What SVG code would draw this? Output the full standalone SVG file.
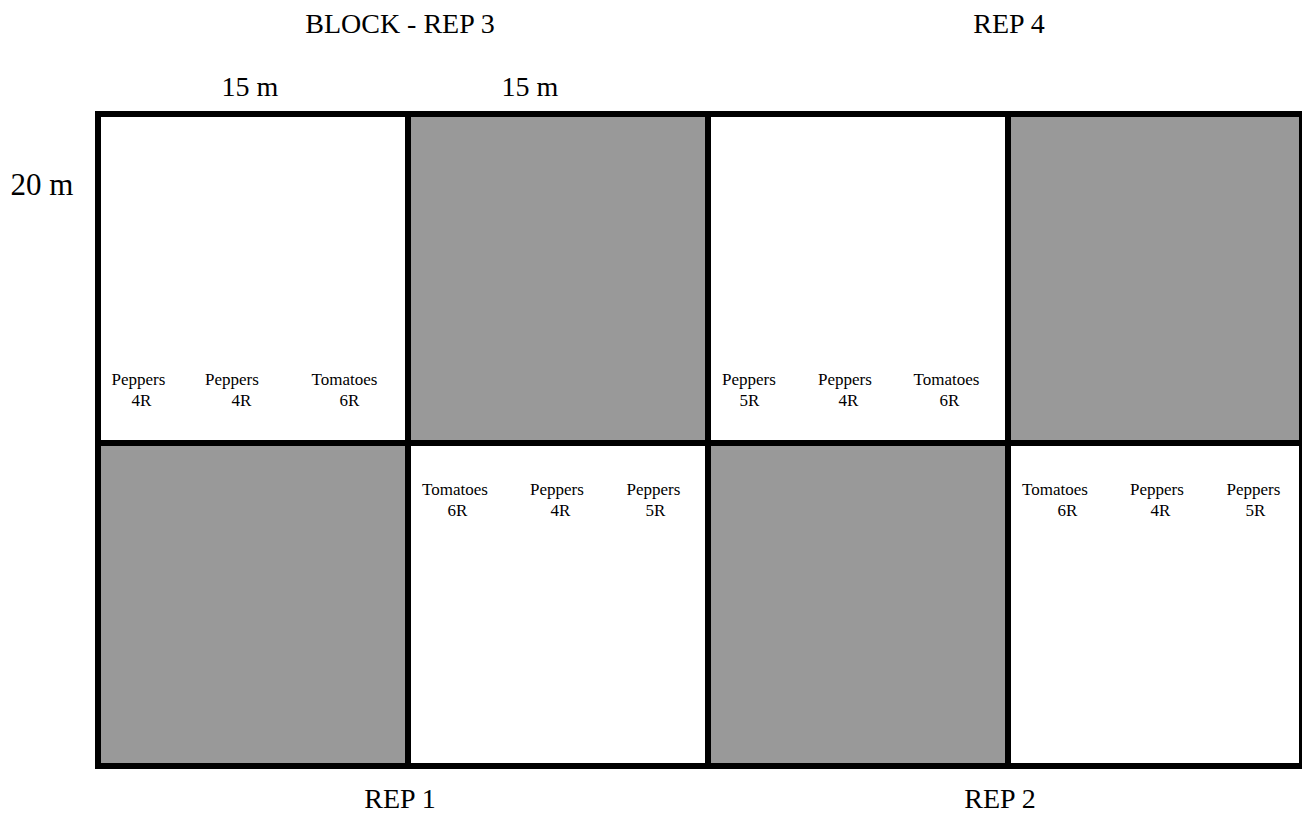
<svg xmlns="http://www.w3.org/2000/svg" width="1302" height="816" viewBox="0 0 1302 816">
<style>
.bg{fill:#ffffff}
.w{fill:#ffffff}
.g{fill:#999999}
.grid{stroke:#000000;stroke-width:6;fill:none}
.big{font-family:"Liberation Serif","Times New Roman",serif;font-size:28px;fill:#000;text-anchor:middle}
.sm{font-family:"Liberation Serif","Times New Roman",serif;font-size:17px;fill:#000;text-anchor:middle}
</style>
<rect class="bg" x="0" y="0" width="1302" height="816"/>
<g id="titles">
<text class="big" x="400" y="33">BLOCK - REP 3</text>
<text class="big" x="1009" y="33">REP 4</text>
<text class="big" x="250" y="96">15 m</text>
<text class="big" x="530" y="96">15 m</text>
<text class="big" x="42" y="195" style="font-size:31px">20 m</text>
<text class="big" x="400" y="808">REP 1</text>
<text class="big" x="1000" y="808">REP 2</text>
</g>
<g id="cell-r1c1">
<rect class="w" x="98" y="114" width="310" height="329"/>
<text class="sm" x="138.5" y="385">Peppers</text><text class="sm" x="141.5" y="406">4R</text>
<text class="sm" x="232" y="385">Peppers</text><text class="sm" x="241.5" y="406">4R</text>
<text class="sm" x="344.5" y="385">Tomatoes</text><text class="sm" x="349.5" y="406">6R</text>
</g>
<g id="cell-r1c2"><rect class="g" x="408" y="114" width="300" height="329"/></g>
<g id="cell-r1c3">
<rect class="w" x="708" y="114" width="300" height="329"/>
<text class="sm" x="749" y="385">Peppers</text><text class="sm" x="749.5" y="406">5R</text>
<text class="sm" x="845" y="385">Peppers</text><text class="sm" x="848.5" y="406">4R</text>
<text class="sm" x="946.5" y="385">Tomatoes</text><text class="sm" x="949.5" y="406">6R</text>
</g>
<g id="cell-r1c4"><rect class="g" x="1008" y="114" width="294" height="329"/></g>
<g id="cell-r2c1"><rect class="g" x="98" y="443" width="310" height="323"/></g>
<g id="cell-r2c2">
<rect class="w" x="408" y="443" width="300" height="323"/>
<text class="sm" x="455" y="495">Tomatoes</text><text class="sm" x="457.5" y="516">6R</text>
<text class="sm" x="557" y="495">Peppers</text><text class="sm" x="560.5" y="516">4R</text>
<text class="sm" x="653.5" y="495">Peppers</text><text class="sm" x="655.5" y="516">5R</text>
</g>
<g id="cell-r2c3"><rect class="g" x="708" y="443" width="300" height="323"/></g>
<g id="cell-r2c4">
<rect class="w" x="1008" y="443" width="294" height="323"/>
<text class="sm" x="1055" y="495">Tomatoes</text><text class="sm" x="1067.5" y="516">6R</text>
<text class="sm" x="1157" y="495">Peppers</text><text class="sm" x="1160.5" y="516">4R</text>
<text class="sm" x="1253.5" y="495">Peppers</text><text class="sm" x="1255.5" y="516">5R</text>
</g>
<g id="connectors" class="grid">
<rect x="98" y="114" width="1204" height="652"/>
<line x1="408" y1="114" x2="408" y2="766"/>
<line x1="708" y1="114" x2="708" y2="766"/>
<line x1="1008" y1="114" x2="1008" y2="766"/>
<line x1="98" y1="443" x2="1302" y2="443"/>
</g>
</svg>
